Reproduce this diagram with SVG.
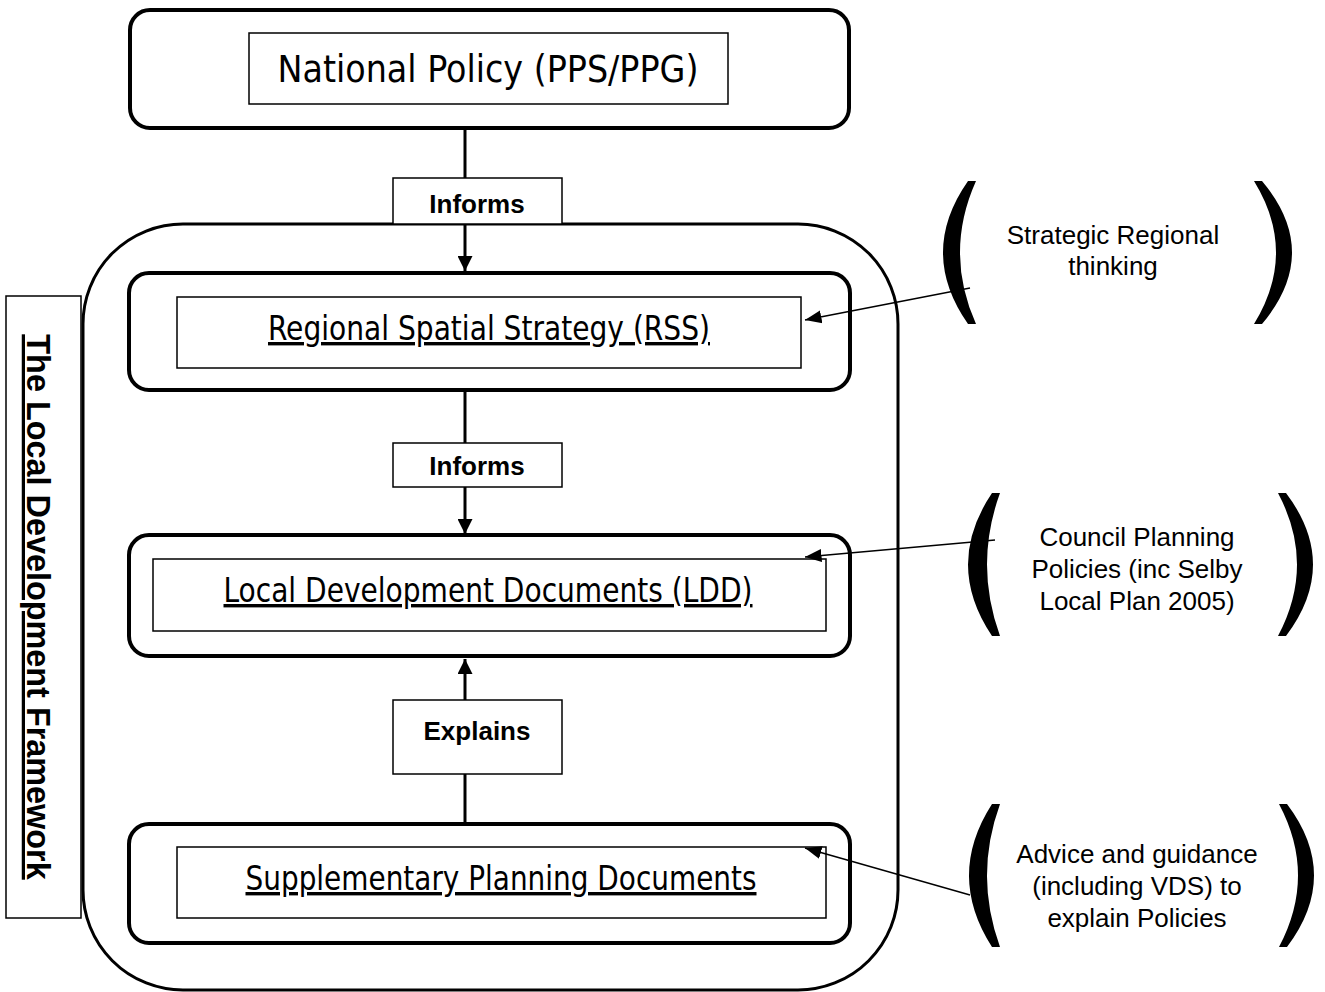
<svg xmlns="http://www.w3.org/2000/svg" width="1325" height="992" viewBox="0 0 1325 992">
<style>
.outer{fill:none;stroke:#000;stroke-width:4}
.inner{fill:#fff;stroke:#000;stroke-width:1.5}
.lbl{fill:#fff;stroke:#000;stroke-width:1.5}
.main{font-family:"Liberation Sans Narrow","DejaVu Sans Condensed",sans-serif;font-stretch:condensed;font-size:34px;text-anchor:middle}
.bold{font-family:"Liberation Sans",Arial,sans-serif;font-weight:bold;font-size:26px;text-anchor:middle}
.side{font-family:"Liberation Sans",Arial,sans-serif;font-size:26px;text-anchor:middle}
.conn{stroke:#000;stroke-width:3;fill:none}
.thin{stroke:#000;stroke-width:1.5;fill:none}
.brk{fill:#000}
</style>
<defs>
<marker id="ah" viewBox="0 0 10 10" refX="10" refY="5" markerWidth="5" markerHeight="5" orient="auto" markerUnits="strokeWidth"><path d="M0,0 L10,5 L0,10 z" fill="#000"/></marker>
<marker id="ahs" viewBox="0 0 10 10" refX="10" refY="5" markerWidth="11" markerHeight="11" orient="auto" markerUnits="strokeWidth"><path d="M0,1 L10,5 L0,9 z" fill="#000"/></marker>
</defs>
<rect width="1325" height="992" fill="#fff"/>
<g id="framework">
<rect x="83" y="224" width="815" height="766" rx="100" ry="100" fill="none" stroke="#000" stroke-width="3"/>
</g>
<g id="framework-label">
<rect x="6" y="296" width="75" height="622" fill="#fff" stroke="#000" stroke-width="1.5"/>
<text transform="translate(27,607) rotate(90)" class="bold" style="font-size:32.4px" text-decoration="underline">The Local Development Framework</text>
</g>
<g id="connectors">
<line x1="465" y1="128" x2="465" y2="271" class="conn" marker-end="url(#ah)"/>
<line x1="465" y1="390" x2="465" y2="534" class="conn" marker-end="url(#ah)"/>
<line x1="465" y1="823" x2="465" y2="659" class="conn" marker-end="url(#ah)"/>
</g>
<g id="national">
<rect x="130" y="10" width="719" height="118" rx="20" class="outer" fill="#fff"/>
<rect x="249" y="33" width="479" height="71" class="inner"/>
<text x="488" y="82" class="main" style="font-size:37px" textLength="421" lengthAdjust="spacingAndGlyphs">National Policy (PPS/PPG)</text>
</g>
<g id="informs1">
<rect x="393" y="178" width="169" height="46" class="lbl"/>
<text x="477" y="213" class="bold">Informs</text>
</g>
<g id="rss">
<rect x="129" y="273" width="721" height="117" rx="20" class="outer" fill="#fff"/>
<rect x="177" y="297" width="624" height="71" class="inner"/>
<text x="489" y="340" class="main" textLength="442" lengthAdjust="spacingAndGlyphs" text-decoration="underline">Regional Spatial Strategy (RSS)</text>
</g>
<g id="informs2">
<rect x="393" y="443" width="169" height="44" class="lbl"/>
<text x="477" y="475" class="bold">Informs</text>
</g>
<g id="ldd">
<rect x="129" y="535" width="721" height="121" rx="20" class="outer" fill="#fff"/>
<rect x="153" y="559" width="673" height="72" class="inner"/>
<text x="488" y="602" class="main" textLength="529" lengthAdjust="spacingAndGlyphs" text-decoration="underline">Local Development Documents (LDD)</text>
</g>
<g id="explains">
<rect x="393" y="700" width="169" height="74" class="lbl"/>
<text x="477" y="740" class="bold">Explains</text>
</g>
<g id="spd">
<rect x="129" y="824" width="721" height="119" rx="20" class="outer" fill="#fff"/>
<rect x="177" y="847" width="649" height="71" class="inner"/>
<text x="501" y="890" class="main" textLength="511" lengthAdjust="spacingAndGlyphs" text-decoration="underline">Supplementary Planning Documents</text>
</g>
<g id="connector-arrows">
<line x1="970" y1="288" x2="805" y2="320" class="thin" marker-end="url(#ahs)"/>
<line x1="995" y1="540" x2="805" y2="557" class="thin" marker-end="url(#ahs)"/>
<line x1="970" y1="895" x2="805" y2="848" class="thin" marker-end="url(#ahs)"/>
</g>
<g id="strategic">
<path class="brk" d="M968,181 Q918,252.5 968,324 L976,324 Q944,252.5 976,181 Z"/>
<path class="brk" d="M1262,181 Q1322,252.5 1262,324 L1254,324 Q1298,252.5 1254,181 Z"/>
<text class="side"><tspan x="1113" y="244">Strategic Regional</tspan><tspan x="1113" y="275">thinking</tspan></text>
</g>
<g id="council">
<path class="brk" d="M992,493 Q944,564.5 992,636 L1000,636 Q974,564.5 1000,493 Z"/>
<path class="brk" d="M1286,493 Q1340,564.5 1286,636 L1278,636 Q1316,564.5 1278,493 Z"/>
<text class="side"><tspan x="1137" y="546">Council Planning</tspan><tspan x="1137" y="578">Policies (inc Selby</tspan><tspan x="1137" y="610">Local Plan 2005)</tspan></text>
</g>
<g id="advice">
<path class="brk" d="M992,804 Q946,875.5 992,947 L1000,947 Q974,875.5 1000,804 Z"/>
<path class="brk" d="M1287,804 Q1341,875.5 1287,947 L1279,947 Q1317,875.5 1279,804 Z"/>
<text class="side"><tspan x="1137" y="863">Advice and guidance</tspan><tspan x="1137" y="895">(including VDS) to</tspan><tspan x="1137" y="927">explain Policies</tspan></text>
</g>
</svg>
